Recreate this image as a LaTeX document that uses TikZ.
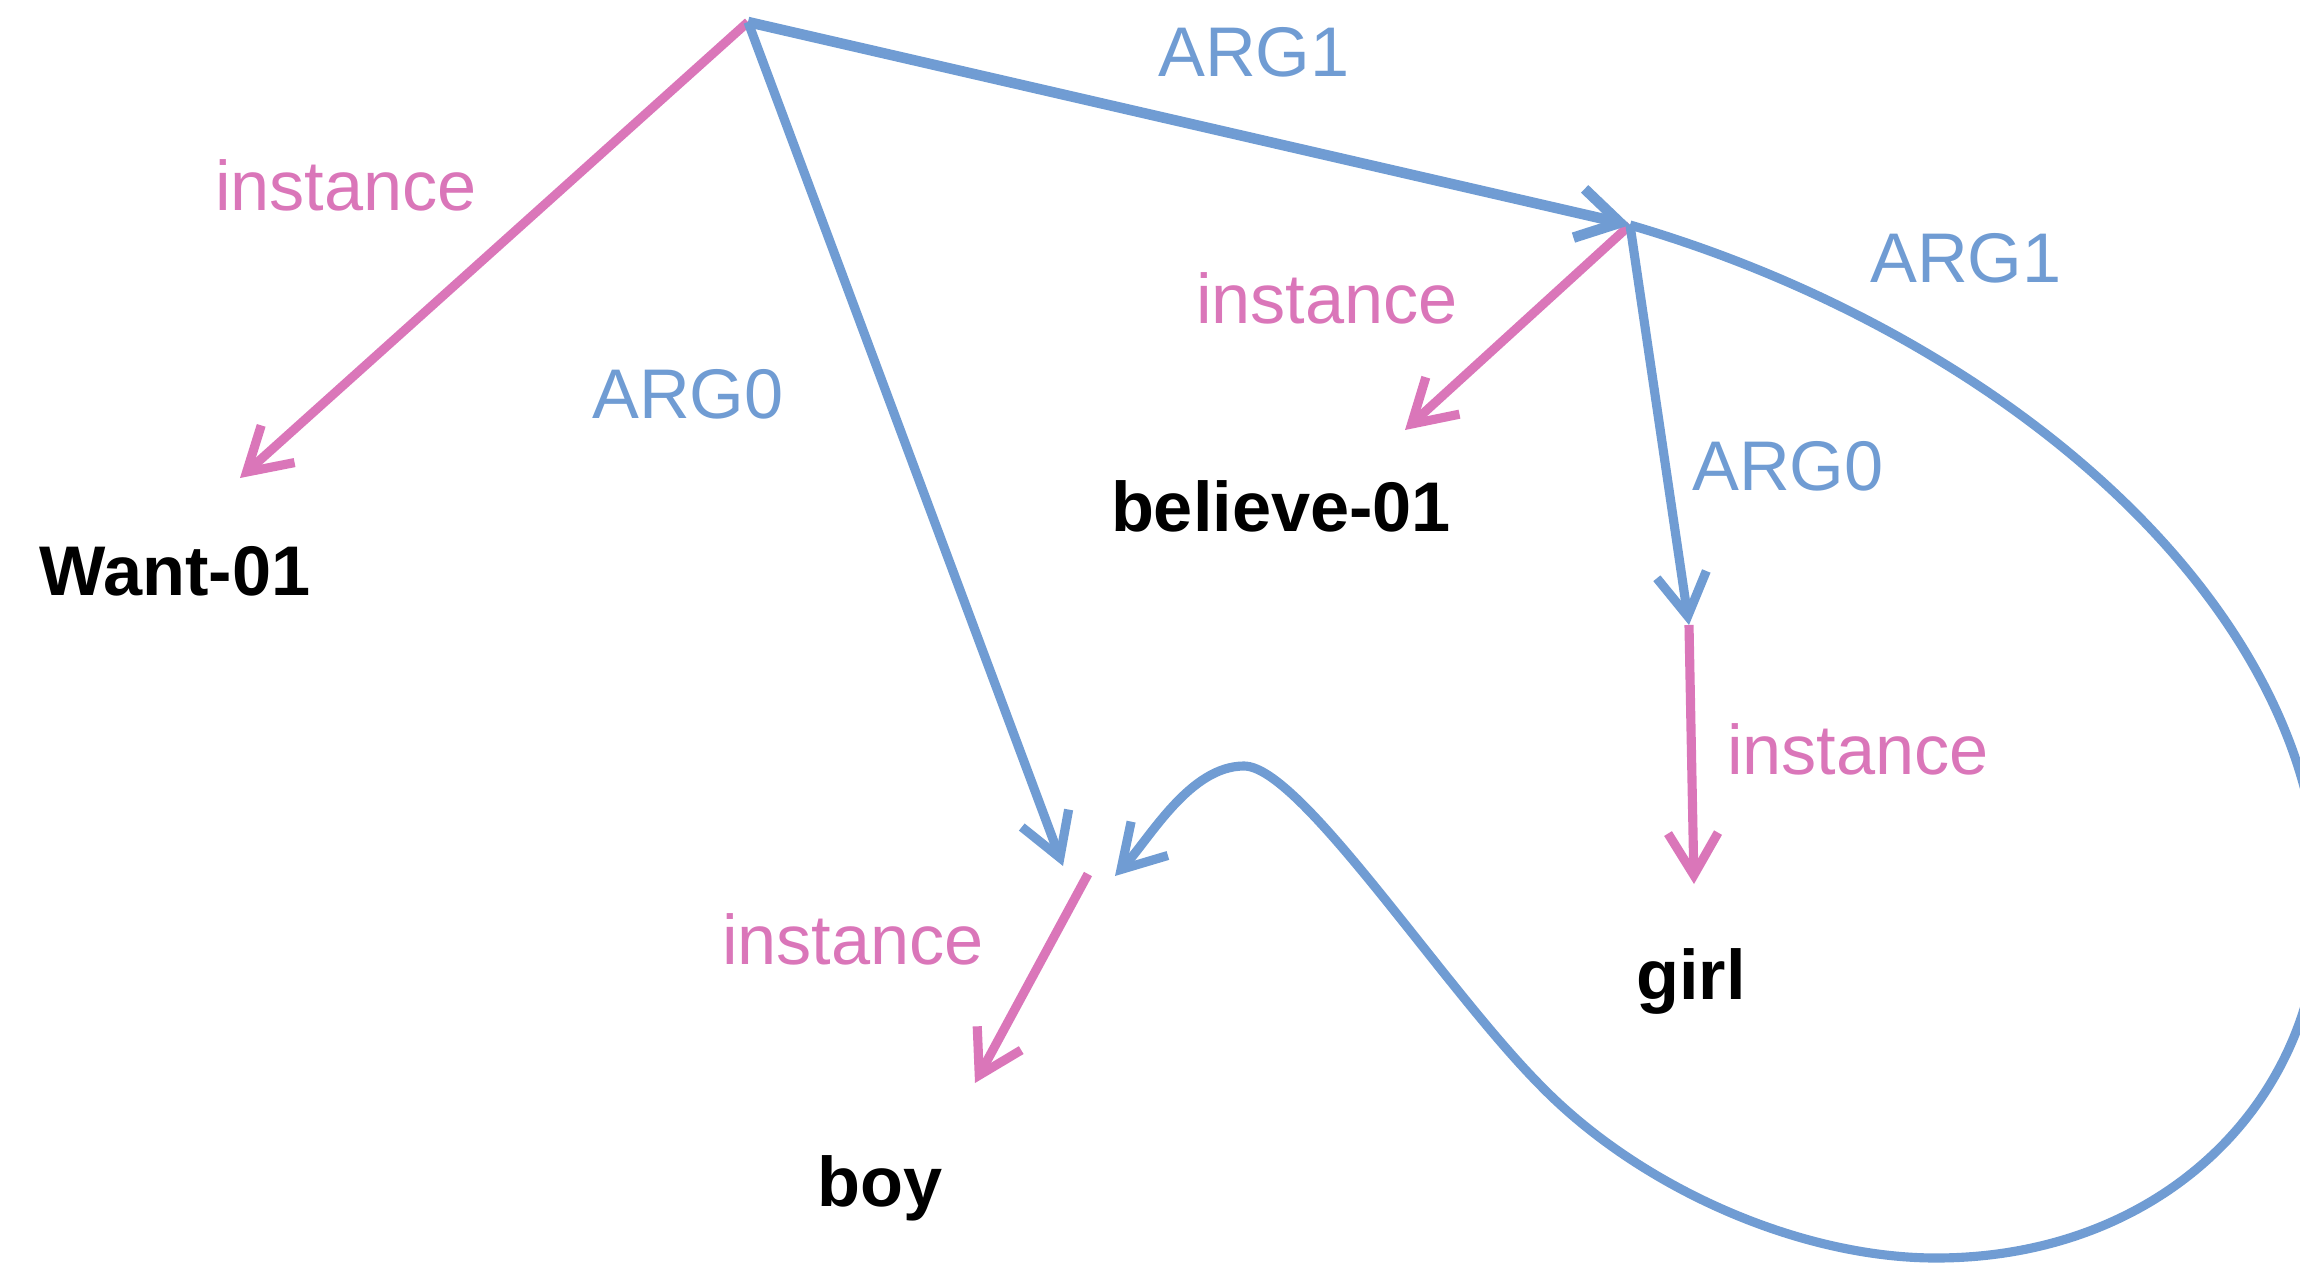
\documentclass[tikz,border=0pt]{standalone}
\usepackage{fontspec}
\setmainfont{Liberation Sans}
\usetikzlibrary{arrows.meta}

\definecolor{amrpink}{HTML}{DA76B9}
\definecolor{amrblue}{HTML}{709CD3}

\begin{document}
\begin{tikzpicture}[>={Straight Barb[length=4.2mm,width=5mm]},
  rel/.style={->,line width=2.6pt,amrblue},
  inst/.style={->,line width=2.6pt,amrpink},
  concept/.style={font=\fontsize{20}{24}\selectfont\bfseries,inner sep=0pt,anchor=base},
  rellab/.style={font=\fontsize{20}{24}\selectfont,text=amrblue,inner sep=0pt,anchor=base},
  instlab/.style={font=\fontsize{20}{24}\selectfont,text=amrpink,inner sep=0pt,anchor=base}]
  \useasboundingbox (0,0) rectangle (23,12.63);
  \clip (0,0) rectangle (23,12.63);

  % variables
  \coordinate (w) at (7.48,12.41);
  \coordinate (b) at (16.30,10.38);
  \coordinate (g) at (16.89,6.38);
  \coordinate (y) at (10.88,3.89);
  % free arrow ends
  \coordinate (w-i) at (2.40,7.85);
  \coordinate (b-i) at (14.05,8.33);
  \coordinate (g-i) at (16.94,3.79);
  \coordinate (y-i) at (9.75,1.80);
  \coordinate (y-a0) at (10.63,3.97);
  \coordinate (y-a1) at (11.15,3.87);

  % concepts
  \node[concept] (want) at (1.75,6.68) {Want-01};
  \node[concept] (believe) at (12.81,7.32) {believe-01};
  \node[concept] (girl) at (16.91,2.64) {girl};
  \node[concept] (boy) at (8.80,0.57) {boy};

  % instance edges
  \draw[inst] (w) -- (w-i);
  \draw[inst] (b) -- (b-i);
  \draw[inst] (g) -- (g-i);
  \draw[inst] (y) -- (y-i);

  % role edges
  \draw[rel,line width=3pt] (w) -- (b);
  \draw[rel] (w) -- (y-a0);
  \draw[rel] (b) -- (g);
  \draw[rel] (b) .. controls (20.0,9.3) and (23.2,6.6) .. (23.2,3.6)
    .. controls (23.2,1.6) and (21.6,0.05) .. (19.36,0.05)
    .. controls (18.0,0.05) and (16.4,0.75) .. (15.4,1.78)
    .. controls (14.42,2.77) and (13.0,4.97) .. (12.44,4.97)
    .. controls (11.9,4.97) and (11.5,4.25) .. (y-a1);

  % labels
  \node[instlab] (l-wi) at (3.46,10.53) {instance};
  \node[instlab] (l-bi) at (13.27,9.40) {instance};
  \node[instlab] (l-gi) at (18.58,4.89) {instance};
  \node[instlab] (l-yi) at (8.53,2.99) {instance};
  \node[rellab] (l-wb) at (12.54,11.87) {ARG1};
  \node[rellab] (l-wy) at (6.88,8.45) {ARG0};
  \node[rellab] (l-bg) at (17.88,7.73) {ARG0};
  \node[rellab] (l-by) at (19.66,9.81) {ARG1};
\end{tikzpicture}
\end{document}
